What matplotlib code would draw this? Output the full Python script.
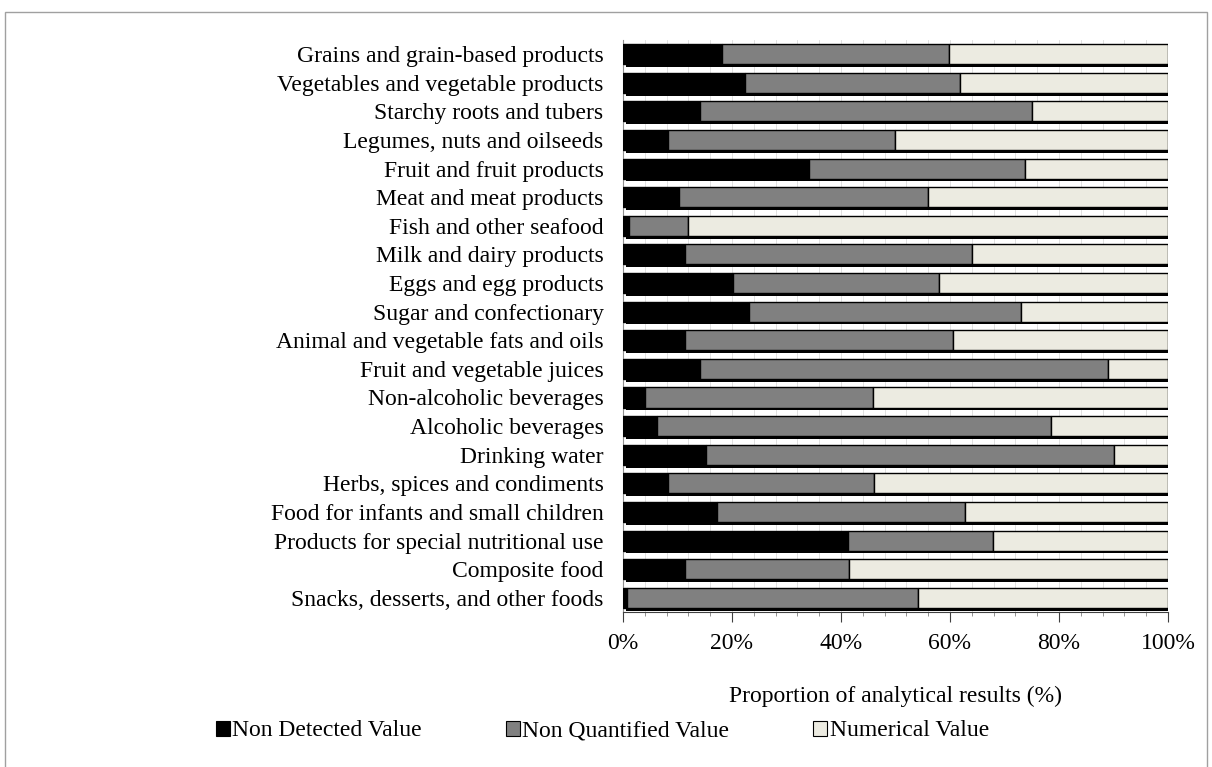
import numpy as np
import matplotlib.pyplot as plt
import matplotlib.patheffects as pe
from matplotlib.patches import Patch, Rectangle
from matplotlib.ticker import MultipleLocator, PercentFormatter

plt.rcParams['font.family'] = ['Liberation Serif', 'DejaVu Serif']

categories = [
    'Grains and grain-based products',
    'Vegetables and vegetable products',
    'Starchy roots and tubers',
    'Legumes, nuts and oilseeds',
    'Fruit and fruit products',
    'Meat and meat products',
    'Fish and other seafood',
    'Milk and dairy products',
    'Eggs and egg products',
    'Sugar and confectionary',
    'Animal and vegetable fats and oils',
    'Fruit and vegetable juices',
    'Non-alcoholic beverages',
    'Alcoholic beverages',
    'Drinking water',
    'Herbs, spices and condiments',
    'Food for infants and small children',
    'Products for special nutritional use',
    'Composite food',
    'Snacks, desserts, and other foods',
]

# proportions (%)
non_detected = [18.2, 22.3, 14.2, 8.3, 34.2, 10.3, 1.1, 11.3, 20.2, 23.2,
                11.3, 14.2, 4.1, 6.2, 15.2, 8.3, 17.3, 41.3, 11.3, 0.7]
non_quantified = [41.6, 39.6, 60.9, 41.7, 39.6, 45.7, 10.8, 52.7, 37.8, 49.8,
                  49.2, 74.8, 41.8, 72.4, 74.8, 37.7, 45.5, 26.6, 30.1, 53.5]
numerical = [100 - a - b for a, b in zip(non_detected, non_quantified)]

series_names = ['Non Detected Value', 'Non Quantified Value', 'Numerical Value']
colors = ['#000000', '#808080', '#ECEBE1']

fs = 17

fig = plt.figure(figsize=(12.12, 7.67), dpi=100)
ax = fig.add_axes([0.514, 0.202, 0.4497, 0.746])

# outer frame
fig.patches.append(Rectangle((0.004, -0.01), 0.992, 0.995, transform=fig.transFigure,
                             fill=False, edgecolor='#a0a0a0', linewidth=1.0))

y = np.arange(len(categories))
shadow = [pe.SimplePatchShadow(offset=(2, -2), shadow_rgbFace='black', alpha=1.0), pe.Normal()]

left = np.zeros(len(categories))
for vals, col in zip([non_detected, non_quantified, numerical], colors):
    bars = ax.barh(y, vals, left=left, height=0.7, color=col, edgecolor='black',
                   linewidth=1.0, zorder=3)
    for b in bars:
        b.set_path_effects(shadow)
    left = left + np.array(vals)

ax.set_xlim(0, 100)
ax.set_ylim(len(categories) - 0.5, -0.5)
ax.set_yticks(y)
ax.set_yticklabels(categories, fontsize=fs)
ax.tick_params(axis='y', length=0, pad=14)

ax.xaxis.set_major_locator(MultipleLocator(20))
ax.xaxis.set_minor_locator(MultipleLocator(4))
ax.xaxis.set_major_formatter(PercentFormatter(decimals=0))
ax.tick_params(axis='x', which='major', labelsize=fs, length=7, pad=8, color='#404040')
ax.tick_params(axis='x', which='minor', length=3, color='#808080')
ax.grid(axis='x', which='both', color='#dcdcdc', linewidth=0.6, zorder=0)

ax.set_xlabel('Proportion of analytical results (%)', fontsize=fs, labelpad=23)

for s in ['top', 'right']:
    ax.spines[s].set_visible(False)
ax.spines['left'].set_color('#909090')
ax.spines['bottom'].set_color('#404040')

handles = [Patch(facecolor=c, edgecolor='black', linewidth=0.8) for c in colors]
fig.legend(handles, series_names, loc='center', bbox_to_anchor=(0.497, 0.047), ncol=3,
           frameon=False, fontsize=fs, handlelength=0.6, handleheight=0.6,
           handletextpad=0.1, columnspacing=3.55)

plt.savefig('out.png', dpi=100)
